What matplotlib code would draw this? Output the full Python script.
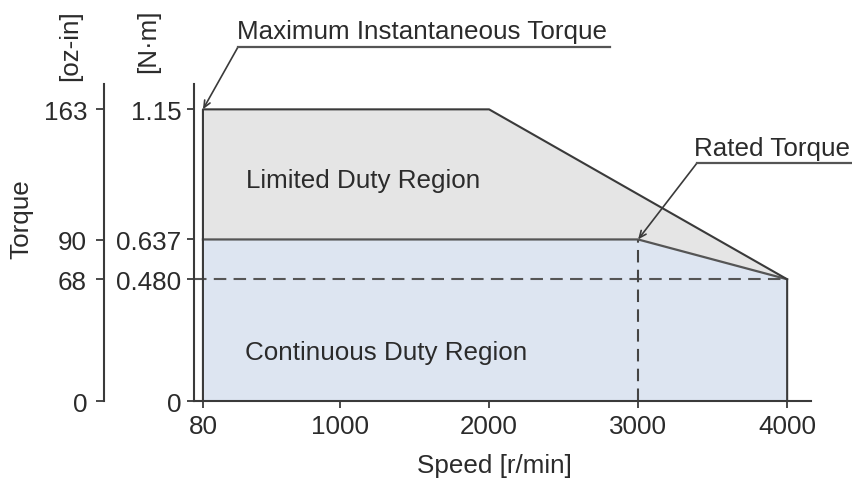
import matplotlib

matplotlib.use("Agg")
import matplotlib.pyplot as plt
from matplotlib.lines import Line2D

plt.rcParams["font.family"] = ["Liberation Sans", "DejaVu Sans"]

# =========================
# Datos (curva par-velocidad)
# =========================

# Envolvente de par maximo instantaneo [r/min], [N·m]
velocidad_max = [80, 80, 2000, 4000, 4000]
par_max = [0, 1.15, 1.15, 0.48, 0]

# Limite de operacion continua (par nominal)
velocidad_cont = [80, 80, 3000, 4000, 4000]
par_cont = [0, 0.637, 0.637, 0.48, 0]

# Punto de par nominal
velocidad_nominal = 3000
par_nominal = 0.637
par_final = 0.480

x_ticks = [80, 1000, 2000, 3000, 4000]
y_ticks_nm = [0, 0.480, 0.637, 1.15]
y_labels_nm = ["0", "0.480", "0.637", "1.15"]
y_ticks_ozin = [0, 68, 90, 163]
NM_A_OZIN = 141.6

# =========================
# Estilo
# =========================

W, H = 853, 485
TAM = 18.7
COLOR_TEXTO = "#2b2b2b"
COLOR_LINEA = "#3a3a3a"
GRIS = "#e5e5e5"
AZUL = "#dde5f1"


def fx(px):
    return px / W


def fy(py):
    return 1 - py / H


fig = plt.figure(figsize=(W / 100, H / 100), dpi=100)
ax = fig.add_axes([fx(194), fy(402), (811 - 194) / W, (402 - 85) / H])

ax.fill(velocidad_max, par_max, color=GRIS, lw=0)
ax.fill(velocidad_cont, par_cont, color=AZUL, lw=0)

ax.plot([20, velocidad_max[-1]], [par_final, par_final], color="#555555", lw=1.5,
        linestyle=(0, (6, 3.5)))
ax.plot([velocidad_nominal, velocidad_nominal], [0, par_nominal], color="#444444", lw=1.5,
        linestyle=(0, (6, 3.5)))
ax.plot(velocidad_cont[1:4], par_cont[1:4], color="#555555", lw=1.6)
ax.plot(velocidad_max, par_max, color=COLOR_LINEA, lw=1.5)

ax.set_xlim(20, 4160)
ax.set_ylim(0, 1.25)
ax.set_xticks(x_ticks)
ax.set_yticks(y_ticks_nm)
ax.set_yticklabels(y_labels_nm)
for lado in ["top", "right"]:
    ax.spines[lado].set_visible(False)
for lado in ["left", "bottom"]:
    ax.spines[lado].set_color(COLOR_LINEA)
    ax.spines[lado].set_linewidth(1.5)
ax.tick_params(axis="both", direction="out", length=5, width=1.3, colors=COLOR_LINEA,
               labelcolor=COLOR_TEXTO, labelsize=TAM)
ax.tick_params(axis="y", pad=4)
ax.tick_params(axis="x", pad=4)

# Eje secundario en oz-in
ax2 = ax.twinx()
ax2.set_ylim(0, 1.25 * NM_A_OZIN)
ax2.set_yticks(y_ticks_ozin)
for lado in ["top", "right", "bottom"]:
    ax2.spines[lado].set_visible(False)
ax2.spines["left"].set_visible(True)
ax2.spines["left"].set_position(("outward", 65))
ax2.spines["left"].set_color(COLOR_LINEA)
ax2.spines["left"].set_linewidth(1.5)
ax2.yaxis.set_ticks_position("left")
ax2.tick_params(axis="y", direction="out", length=6, width=1.3, pad=6, colors=COLOR_LINEA,
                labelcolor=COLOR_TEXTO, labelsize=TAM)

# Textos de regiones
ax.text(370, 0.845, "Limited Duty Region", fontsize=TAM, color=COLOR_TEXTO, va="baseline")
ax.text(365, 0.165, "Continuous Duty Region", fontsize=TAM, color=COLOR_TEXTO, va="baseline")

# Etiquetas de ejes
fig.text(fx(494), fy(466), "Speed [r/min]", fontsize=TAM, color=COLOR_TEXTO,
         ha="center", va="center")
fig.text(fx(21), fy(219), "Torque", fontsize=TAM, color=COLOR_TEXTO, rotation=90,
         ha="center", va="center")
fig.text(fx(70), fy(46), "[oz-in]", fontsize=TAM, color=COLOR_TEXTO, rotation=90,
         ha="center", va="center")
fig.text(fx(148), fy(41), "[N·m]", fontsize=TAM, color=COLOR_TEXTO, rotation=90,
         ha="center", va="center")

# Anotaciones con linea guia
flecha = dict(arrowstyle="->,head_length=0.5,head_width=0.22", color=COLOR_LINEA, lw=1.2,
              shrinkA=0, shrinkB=0)
ax.annotate("", xy=(velocidad_max[1], par_max[1]), xytext=(fx(238), fy(48)),
            textcoords="figure fraction", arrowprops=flecha, annotation_clip=False)
fig.add_artist(Line2D([fx(238), fx(610)], [fy(48), fy(48)], color="#555555", lw=1.6,
                      transform=fig.transFigure))
fig.text(fx(422), fy(39), "Maximum Instantaneous Torque", fontsize=TAM, color=COLOR_TEXTO,
         ha="center", va="baseline")

ax.annotate("", xy=(velocidad_nominal, par_nominal), xytext=(fx(697), fy(164)),
            textcoords="figure fraction", arrowprops=flecha, annotation_clip=False)
fig.add_artist(Line2D([fx(697), fx(853)], [fy(164), fy(164)], color="#555555", lw=1.6,
                      transform=fig.transFigure))
fig.text(fx(772), fy(156), "Rated Torque", fontsize=TAM, color=COLOR_TEXTO,
         ha="center", va="baseline")

fig.savefig("out.png", dpi=100)
plt.close(fig)
